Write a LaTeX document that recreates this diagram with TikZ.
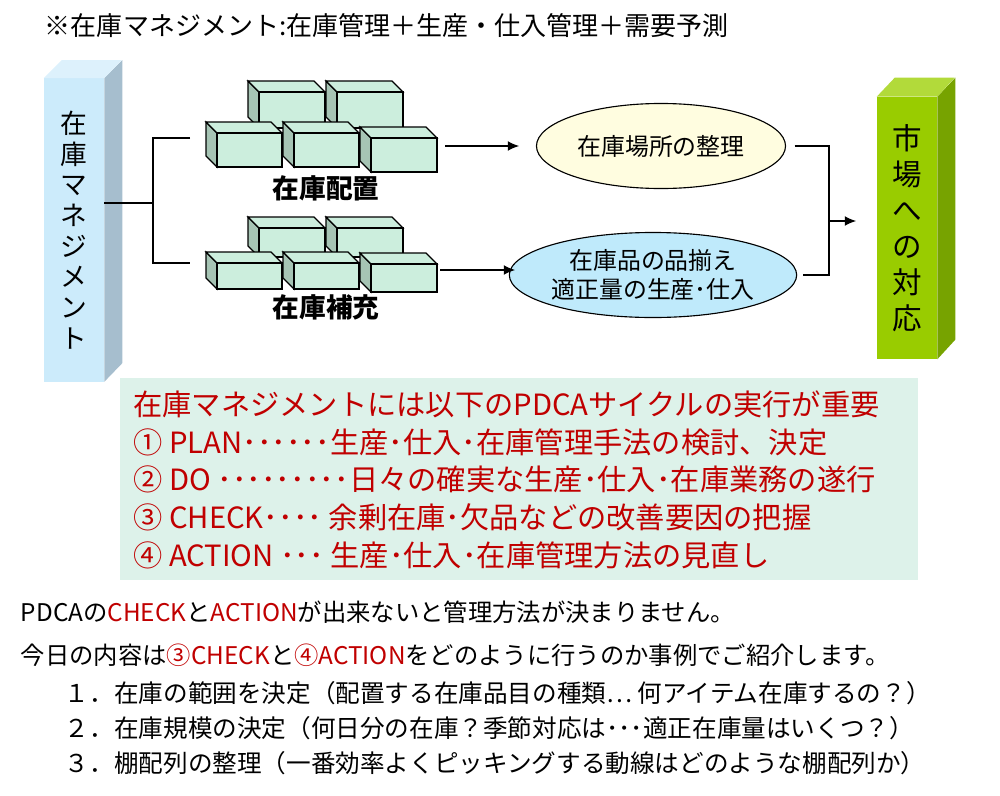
\documentclass[tikz,border=0pt]{standalone}
\usepackage{fontspec}
\setmainfont{Noto Sans CJK JP}
\usetikzlibrary{arrows.meta,shapes.geometric}
\definecolor{barblue}{HTML}{CCEBFB}
\definecolor{barblueside}{HTML}{A6BECE}
\definecolor{barbluetop}{HTML}{DDF1FC}
\definecolor{bargreen}{HTML}{99CC00}
\definecolor{bargreenside}{HTML}{77A300}
\definecolor{bargreentop}{HTML}{B2DA3A}
\definecolor{brickfront}{HTML}{CCEEDD}
\definecolor{brickside}{HTML}{A6C4B4}
\definecolor{pdcabg}{HTML}{DDF2EA}
\definecolor{pdcared}{HTML}{C00000}
\tikzset{
  bar/.style={minimum width=1.5cm, inner sep=0pt, align=center, font=\fontsize{19}{21.8}\selectfont},
  oval/.style={ellipse, draw, thick, inner sep=0pt, minimum height=2.125cm, align=center, font=\fontsize{17}{21}\selectfont},
  link/.style={thick},
  go/.style={thick, -{Latex[length=8pt,width=7pt]}},
  lbl/.style={font=\bfseries\fontsize{19}{22}\selectfont}
}
% brick: front top-left corner, width, height
\newcommand{\brick}[4]{%
  \fill[brickside,draw=black,thick] (#1,#2) -- ++(-11,-11) -- ++(0,#4) -- ++(11,11) -- cycle;
  \fill[brickfront,draw=black,thick] (#1,#2) -- ++(-11,-11) -- ++(#3,0) -- ++(11,11) -- cycle;
  \draw[fill=brickfront,thick] (#1,#2) rectangle ++(#3,#4);}
\begin{document}
\begin{tikzpicture}[x=0.025cm,y=-0.025cm]
\useasboundingbox (0,0) rectangle (1000,796);
% title
\node[anchor=west, font=\fontsize{18.5}{22}\selectfont] (title) at (40,26) {※在庫マネジメント:在庫管理＋生産・仕入管理＋需要予測};

% left bar
\node[bar, fill=barblue, minimum height=7.575cm] (mgmt) at (74,230) {在\\庫\\マ\\ネ\\ジ\\メ\\ン\\ト};
\fill[barblueside] (mgmt.north east) -- ++(18,-18) -- ++(0,303) -- (mgmt.south east) -- cycle;
\fill[barbluetop] (mgmt.north west) -- ++(18,-18) -- ++(60,0) -- (mgmt.north east) -- cycle;

% right bar
\node[bar, fill=bargreen, minimum height=6.55cm, font=\fontsize{21}{25.6}\selectfont] (market) at (907,228) {市\\場\\へ\\の\\対\\応};
\fill[bargreenside] (market.north east) -- ++(18,-19) -- ++(0,262) -- (market.south east) -- cycle;
\fill[bargreentop] (market.north west) -- ++(18,-19) -- ++(60,0) -- (market.north east) -- cycle;

% bricks
\brick{259}{92}{66}{36}
\brick{337}{92}{66}{36}
\brick{217}{133}{65}{34}
\brick{294}{133}{65}{34}
\brick{371}{138}{66}{34}
\brick{259}{228}{66}{29}
\brick{337}{228}{66}{29}
\brick{217}{263}{65}{26}
\brick{371}{264}{66}{28}
\brick{294}{263}{65}{26}
\node[lbl] (layout) at (326,188) {在庫配置};
\node[lbl] (refill) at (326,307) {在庫補充};

% ovals
\node[oval, fill=yellow!12, minimum width=6.225cm] (place) at (661,146) {在庫場所の整理};
\node[oval, fill=cyan!25, minimum width=6.725cm] (stock) at (653,275) {在庫品の品揃え\\適正量の生産･仕入};

% connectors
\coordinate (split) at (153,203);
\coordinate (in1) at (190,138);
\coordinate (in2) at (190,263);
\coordinate (out1) at (445,146);
\coordinate (out2) at (440,270);
\coordinate (tip1) at (519,146);
\coordinate (tip2) at (515,270);
\coordinate (join) at (829,221);
\coordinate (tip3) at (856,221);
\draw[link] (mgmt.east |- split) -- (split);
\draw[link] (in1) -| (split) |- (in2);
\draw[go] (out1) -- (tip1);
\draw[go] (out2) -- (tip2);
\draw[link] ([xshift=6]place.east) -| (join) |- ([xshift=4]stock.east);
\draw[go] (join) -- (tip3);

% PDCA box
\node[fill=pdcabg, minimum width=19.95cm, minimum height=5.05cm] (pdca) at (519,479) {};
\node[anchor=north west, align=left, text=pdcared, inner sep=0pt,
  font=\fontsize{20.8}{27}\selectfont] (steps) at (133,390)
  {在庫マネジメントには以下のPDCAサイクルの実行が重要\\
   ① PLAN･･････生産･仕入･在庫管理手法の検討、決定\\
   ② DO ･････････日々の確実な生産･仕入･在庫業務の遂行\\
   ③ CHECK････ 余剰在庫･欠品などの改善要因の把握\\
   ④ ACTION ･･･ 生産･仕入･在庫管理方法の見直し};

% notes
\node[anchor=west, font=\fontsize{17.3}{20}\selectfont] (note1) at (16,612)
  {PDCAの\textcolor{pdcared}{CHECK}と\textcolor{pdcared}{ACTION}が出来ないと管理方法が決まりません。};
\node[anchor=west, font=\fontsize{17.3}{20}\selectfont] (note2) at (16,655)
  {今日の内容は\textcolor{pdcared}{③CHECK}と\textcolor{pdcared}{④ACTION}をどのように行うのか事例でご紹介します。};
\node[anchor=west, font=\fontsize{17.5}{20}\selectfont] (item1) at (60,693)
  {１．在庫の範囲を決定（配置する在庫品目の種類… 何アイテム在庫するの？）};
\node[anchor=west, font=\fontsize{17.5}{20}\selectfont] (item2) at (60,728)
  {２．在庫規模の決定（何日分の在庫？季節対応は･･･適正在庫量はいくつ？）};
\node[anchor=west, font=\fontsize{17.5}{20}\selectfont] (item3) at (60,763)
  {３．棚配列の整理（一番効率よくピッキングする動線はどのような棚配列か）};
\end{tikzpicture}
\end{document}
